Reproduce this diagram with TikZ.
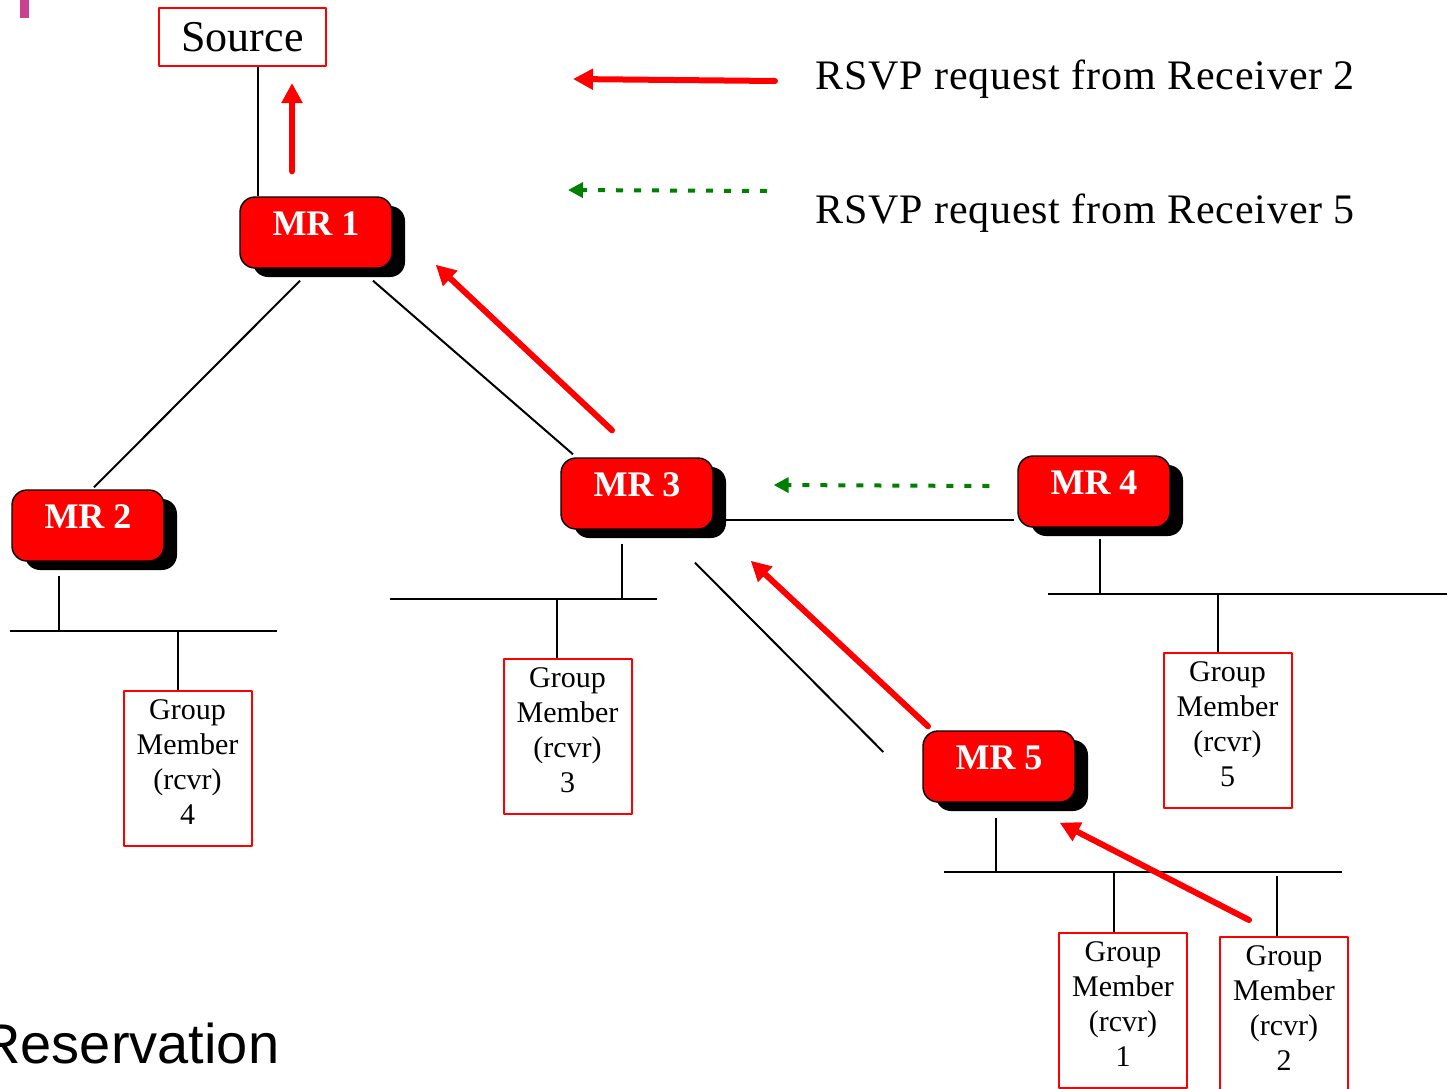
\documentclass[tikz,border=0pt]{standalone}
\usepackage{fontspec}
\setmainfont{Liberation Serif}
\newfontfamily\legendfont[LetterSpace=2]{Liberation Serif}
\newfontfamily\slidefont{Liberation Sans}
\usetikzlibrary{arrows.meta,shadows}
\definecolor{rsvpgreen}{RGB}{0,128,0}
\definecolor{slidepink}{RGB}{204,64,144}
\begin{document}
\begin{tikzpicture}[x=0.5pt, y=-0.5pt, line join=round,
	mrbox/.style={draw=black, line width=0.7pt, fill=red, rounded corners=7.5pt,
		minimum width=76pt, minimum height=35.5pt, inner sep=0pt,
		text=white, font=\fontsize{18}{20}\selectfont\bfseries,
		text height=12.5pt, text depth=10pt,
		drop shadow={shadow xshift=6.5pt, shadow yshift=-4.5pt, opacity=1, fill=black}},
	gmbox/.style={draw=red, line width=1pt, minimum width=64pt, minimum height=77.5pt,
		inner sep=0pt, align=center, text depth=6pt, font=\fontsize{15}{17.5}\selectfont},
	srcbox/.style={draw=red, line width=1pt, minimum width=83.5pt, minimum height=29pt,
		inner sep=0pt, font=\fontsize{22}{24}\selectfont},
	legendtxt/.style={anchor=base west, inner sep=0pt, font=\legendfont\fontsize{21}{24}\selectfont},
	wire/.style={line width=1pt, black},
	reqtwo/.style={red, line width=3pt, line cap=round, -{Triangle[length=10pt,width=10pt]}},
	reqfive/.style={rsvpgreen, line width=2pt, dash pattern=on 3.5pt off 5.5pt,
		-{Triangle[length=7.5pt,width=7.5pt]}}]
	\useasboundingbox (0,0) rectangle (1447,1088);
	\fill[slidepink] (20,0) rectangle (29,18);
	% routers and receivers
	\node[srcbox] (src) at (242.5,37) {Source};
	\foreach \n/\x/\y in {1/316/232.5, 2/88/525.5, 3/637/493.5, 4/1094/491.5, 5/999/766.5}
		\node[mrbox] (mr\n) at (\x,\y) {MR \n};
	\foreach \n/\x/\y in {4/187.5/768.5, 3/567.5/736, 5/1227.5/730.5, 1/1123/1010.5, 2/1284/1014.5}
		\node[gmbox] (gm\n) at (\x,\y) {Group\\Member\\(rcvr)\\\n};
	% tree links
	\draw[wire] ([shift={(15.5,0)}]src.south) -- ([shift={(15.5,0)}]src.south |- mr1.north);
	\draw[wire] ([shift={(-16,12)}]mr1.south) -- ([shift={(6,-2)}]mr2.north);
	\draw[wire] ([shift={(57,12)}]mr1.south) -- ([shift={(-64,-3)}]mr3.north);
	\draw[wire] ([shift={(12,26.5)}]mr3.east) -- ++(288,0);
	\draw[wire] ([shift={(58,33)}]mr3.south) -- ([shift={(-39,-14.5)}]mr5.west);
	% LAN segments
	\coordinate (bus2) at (10,631);
	\coordinate (bus3) at (390,599);
	\coordinate (bus4) at (1048,594);
	\coordinate (bus5) at (944,872);
	\draw[wire] (bus2) -- ++(267,0);
	\draw[wire] (bus3) -- ++(267,0);
	\draw[wire] (bus4) -- ++(399,0);
	\draw[wire] (bus5) -- ++(398,0);
	\draw[wire] ([shift={(-29,14)}]mr2.south) -- ([shift={(-29,0)}]mr2.south |- bus2);
	\draw[wire] ([shift={(-9.5,0)}]gm4.north) -- ([shift={(-9.5,0)}]gm4.north |- bus2);
	\draw[wire] ([shift={(-15,14)}]mr3.south) -- ([shift={(-15,0)}]mr3.south |- bus3);
	\draw[wire] ([shift={(-10.5,0)}]gm3.north) -- ([shift={(-10.5,0)}]gm3.north |- bus3);
	\draw[wire] ([shift={(6,11)}]mr4.south) -- ([shift={(6,0)}]mr4.south |- bus4);
	\draw[wire] ([shift={(-9.5,0)}]gm5.north) -- ([shift={(-9.5,0)}]gm5.north |- bus4);
	\draw[wire] ([shift={(-3,15)}]mr5.south) -- ([shift={(-3,0)}]mr5.south |- bus5);
	\draw[wire] ([shift={(-9,0)}]gm1.north) -- ([shift={(-9,0)}]gm1.north |- bus5);
	\draw[wire] ([shift={(-7,0)}]gm2.north) -- ([shift={(-7,-60)}]gm2.north);
	% reservation messages
	\draw[reqtwo] ([shift={(-24,-25)}]mr1.north) -- ([shift={(49.5,16)}]src.south);
	\draw[reqtwo] ([shift={(-25,-27)}]mr3.north) -- ([shift={(43,-4)}]mr1.south east);
	\draw[reqtwo] ([shift={(-71,-4)}]mr5.north) -- ([shift={(37,31)}]mr3.south east);
	\draw[reqtwo] ([shift={(-35,-16)}]gm2.north) -- ([shift={(-16,20)}]mr5.south east);
	\draw[reqfive] ([shift={(-28,-5.5)}]mr4.west) -- ([shift={(60,-8.5)}]mr3.east);
	% legend
	\coordinate (keytwo) at (775,81);
	\coordinate (keyfive) at (767,191);
	\draw[reqtwo] (keytwo) -- (573,79);
	\draw[reqfive] (keyfive) -- (568,190);
	\node[legendtxt] (lbltwo) at (815,89) {RSVP request from Receiver 2};
	\node[legendtxt] (lblfive) at (815,223) {RSVP request from Receiver 5};
	\node[anchor=base west, inner sep=0pt, font=\slidefont\fontsize{28}{30}\selectfont] (title) at (-20,1063) {Reservation};
\end{tikzpicture}
\end{document}
